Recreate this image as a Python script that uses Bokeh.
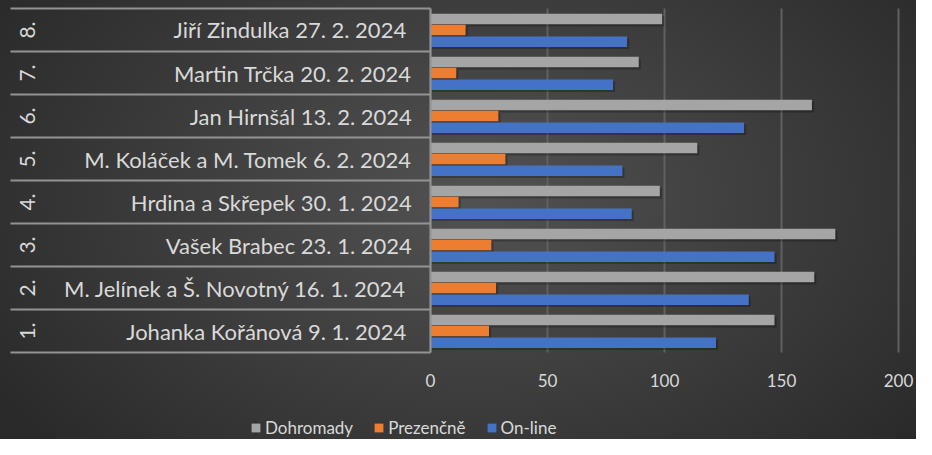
import math
from bokeh.plotting import figure
from bokeh.models import ColumnDataSource, Range1d, Legend, LegendItem
from bokeh.transform import dodge
from bokeh.core.properties import value
from bokeh.embed import file_html
from bokeh.resources import INLINE

# ---- data ----
order = ["1.", "2.", "3.", "4.", "5.", "6.", "7.", "8."]
lectures = [
    "Johanka Kořánová  9. 1. 2024",
    "M. Jelínek a Š. Novotný  16. 1. 2024",
    "Vašek Brabec 23. 1. 2024",
    "Hrdina a Skřepek 30. 1. 2024",
    "M. Koláček a M. Tomek 6. 2. 2024",
    "Jan Hirnšál 13. 2. 2024",
    "Martin Trčka 20. 2. 2024",
    "Jiří Zindulka  27. 2. 2024",
]
dohromady = [147, 164, 173, 98, 114, 163, 89, 99]
prezencne = [25, 28, 26, 12, 32, 29, 11, 15]
online = [122, 136, 147, 86, 82, 134, 78, 84]
x_ticks = [0, 50, 100, 150, 200]
x_tick_labels = ["0", "50", "100", "150", "200"]

pos = list(range(1, len(order) + 1))
src = ColumnDataSource(dict(pos=pos, order=order, lecture=lectures,
                            dohromady=dohromady, prezencne=prezencne, online=online))

FONT = "Lato"
TXT = "#d9d9d9"
LINE = "#939393"

# layout: value 0 at 430 px, 2.34 px per unit; 43 px per category row
p = figure(frame_width=916, frame_height=439, output_backend="svg", toolbar_location=None,
           x_range=Range1d(-183.76, 207.69), y_range=Range1d(-1.523, 8.686),
           min_border_left=0, min_border_right=0, min_border_top=0, min_border_bottom=0)
p.background_fill_alpha = 0
p.border_fill_alpha = 0
p.outline_line_color = None
p.styles = {"background": "radial-gradient(ellipse 62% 85% at 52% 45%, #525252 0%, #3e3e3e 50%, #2a2a2a 100%)"}
p.xaxis.visible = False
p.yaxis.visible = False
p.grid.visible = False

bounds = [v - 0.5 for v in pos] + [pos[-1] + 0.5]

# value grid lines
p.segment(x0=x_ticks, x1=x_ticks, y0=[bounds[0]] * len(x_ticks), y1=[bounds[-1]] * len(x_ticks),
          line_color="#606060", line_width=2)
# value tick labels
p.text(x=x_ticks, y=[-0.151] * len(x_ticks), text=x_tick_labels, text_align="center",
       text_baseline="middle", text_font=value(FONT), text_font_size="17px", text_color=TXT)

H = 0.244
offs = {"dohromady": 0.256, "prezencne": 0.0, "online": -0.272}
colors = {"dohromady": "#a5a5a5", "prezencne": "#ed7d31", "online": "#4472c4"}

# soft drop shadows
for k, off in offs.items():
    p.hbar(y=dodge("pos", off - 0.05, range=p.y_range), left=0.6,
           right=dodge(k, 0.9), height=H, source=src,
           fill_color="black", fill_alpha=0.25, line_color=None)

rend = {}
for k, off in offs.items():
    rend[k] = p.hbar(y=dodge("pos", off, range=p.y_range), left=0, right=k,
                     height=H, source=src, fill_color=colors[k], line_color=None)

# table lines of the two-level category axis
p.segment(x0=[-179.5] * len(bounds), x1=[0] * len(bounds), y0=bounds, y1=bounds,
          line_color=LINE, line_width=2)
p.segment(x0=[0], x1=[0], y0=[bounds[0]], y1=[bounds[-1]], line_color=LINE, line_width=2)

p.text(x=-8.0, y="pos", text="lecture", source=src, text_align="right",
       text_baseline="middle", text_font=value(FONT), text_font_size="22px",
       text_color=TXT)
p.text(x=-172.2, y="pos", text="order", source=src, angle=math.pi / 2,
       text_align="center", text_baseline="middle", text_font=value(FONT),
       text_font_size="21px", text_color=TXT)

legend = Legend(items=[LegendItem(label="Dohromady", renderers=[rend["dohromady"]]),
                       LegendItem(label="Prezenčně", renderers=[rend["prezencne"]]),
                       LegendItem(label="On-line", renderers=[rend["online"]])],
                orientation="horizontal", location=(250, 1),
                background_fill_alpha=0, border_line_color=None,
                label_text_font=FONT, label_text_font_size="17px",
                label_text_color=TXT, glyph_width=11, glyph_height=11,
                label_standoff=4, spacing=20, padding=4, margin=0)
p.add_layout(legend)

open("out.html", "w").write(file_html(p, INLINE))
